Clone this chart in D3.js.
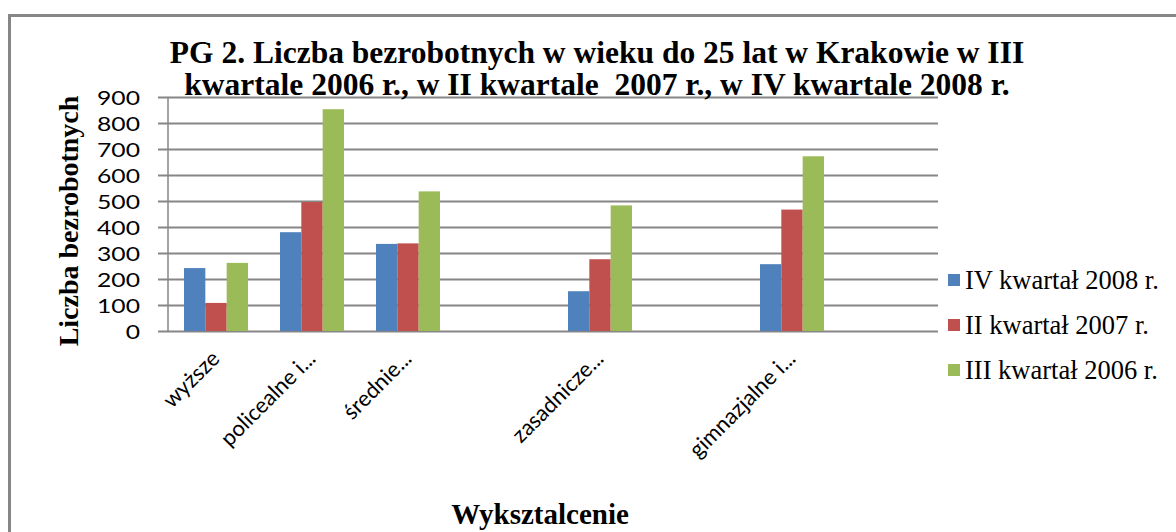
<!DOCTYPE html>
<meta charset="utf-8">
<style>
body{
  margin: 0px;
  background: white;
}
svg text{
  fill: black;
}
.serif{
  font-family: "Liberation Serif", "Times New Roman", serif;
}
.sans{
  font-family: Lato, "Liberation Sans", sans-serif;
}
</style>
<body>
<script src="https://cdn.jsdelivr.net/npm/d3@7"></script>
<script>

// categories (empty ones are real, unlabelled slots in the source chart)
var categories = ['wyższe', 'policealne i...', 'średnie...', '', 'zasadnicze...', '', 'gimnazjalne i...', '']
var seriesNames = ['IV kwartał 2008 r.', 'II kwartał 2007 r.', 'III kwartał 2006 r.']
var q4_2008 = [242, 380, 335, null, 153, null, 257, null]
var q2_2007 = [108, 496, 337, null, 276, null, 467, null]
var q3_2006 = [262, 853, 537, null, 483, null, 672, null]
var yTicks = [0, 100, 200, 300, 400, 500, 600, 700, 800, 900]
var titleLines = ['PG 2. Liczba bezrobotnych w wieku do 25 lat w Krakowie w III',
                  'kwartale 2006 r., w II kwartale  2007 r., w IV kwartale 2008 r.']

var colors = ['#4f81bd', '#c0504d', '#9bbb59']
var grey = '#868686'

var width = 1176,
    height = 532

var svg = d3.select('body').append('svg')
    .attr('width', width)
    .attr('height', height)

svg.append('rect').attr('width', width).attr('height', height).attr('fill', 'white')

// outer frame, only left and top visible in the crop
svg.append('path')
    .attr('d', 'M9.5,' + height + 'V15.5H' + width)
    .attr('fill', 'none')
    .attr('stroke', grey)
    .attr('stroke-width', 3)

var x0 = d3.scaleBand().domain(d3.range(categories.length)).range([168, 936])
var x1 = d3.scaleBand().domain(d3.range(seriesNames.length)).range([16, 80])
var y = d3.scaleLinear().domain([0, 900]).range([331, 97])

// gridlines + y labels
var yAxis = svg.append('g')
    .attr('transform', 'translate(168,0)')
    .call(d3.axisLeft(y).tickValues(yTicks).tickSize(-770).tickSizeOuter(0).tickPadding(0))
yAxis.select('.domain').remove()
yAxis.selectAll('.tick line')
    .attr('x1', -10)
    .attr('stroke', grey)
    .attr('stroke-width', 2)
yAxis.selectAll('.tick text')
    .attr('class', 'sans')
    .attr('x', null)
    .attr('transform', 'translate(-28,1) scale(1.3,1)')
    .style('font-size', '19px')
    .attr('fill', 'black')

svg.append('line')
    .attr('x1', 168).attr('x2', 168)
    .attr('y1', y(900)).attr('y2', y(0))
    .attr('stroke', grey).attr('stroke-width', 1.5)

var series = [q4_2008, q2_2007, q3_2006]

var groups = svg.selectAll('g.cat')
    .data(categories)
  .enter().append('g')
    .attr('class', 'cat')
    .attr('transform', function(d, i){ return 'translate(' + x0(i) + ',0)' })

groups.selectAll('rect')
    .data(function(d, i){
      return series.map(function(s, k){ return {k: k, v: s[i]} }).filter(function(e){ return e.v != null })
    })
  .enter().append('rect')
    .attr('x', function(d){ return x1(d.k) })
    .attr('width', x1.bandwidth())
    .attr('y', function(d){ return y(d.v) })
    .attr('height', function(d){ return y(0) - y(d.v) })
    .attr('fill', function(d){ return colors[d.k] })

// category labels, rotated
groups.append('text')
    .attr('class', 'sans')
    .attr('transform', function(){ return 'translate(' + (x0.bandwidth() / 2 + 5) + ',360) rotate(-45)' })
    .attr('text-anchor', 'end')
    .style('font-size', '22px')
    .text(function(d){ return d })

// title
svg.append('g').selectAll('text')
    .data(titleLines)
  .enter().append('text')
    .attr('class', 'serif')
    .attr('x', 597)
    .attr('y', function(d, i){ return 63 + i * 32 })
    .attr('text-anchor', 'middle')
    .style('font-size', '31.5px')
    .style('font-weight', 'bold')
    .style('white-space', 'pre')
    .text(function(d){ return d })

// axis titles
svg.append('text')
    .attr('class', 'serif')
    .attr('transform', 'translate(78,221) rotate(-90)')
    .attr('text-anchor', 'middle')
    .style('font-size', '28px')
    .style('font-weight', 'bold')
    .text('Liczba bezrobotnych')

svg.append('text')
    .attr('class', 'serif')
    .attr('x', 540)
    .attr('y', 524)
    .attr('text-anchor', 'middle')
    .style('font-size', '29px')
    .style('font-weight', 'bold')
    .text('Wyksztalcenie')

// legend
var legend = svg.selectAll('g.legend')
    .data(seriesNames)
  .enter().append('g')
    .attr('class', 'legend')
    .attr('transform', function(d, i){ return 'translate(948,' + (280 + i * 45) + ')' })

legend.append('rect')
    .attr('y', -6)
    .attr('width', 12)
    .attr('height', 12)
    .attr('fill', function(d, i){ return colors[i] })

legend.append('text')
    .attr('class', 'serif')
    .attr('x', 17)
    .attr('y', 9)
    .style('font-size', '26.5px')
    .text(function(d){ return d })

</script>
